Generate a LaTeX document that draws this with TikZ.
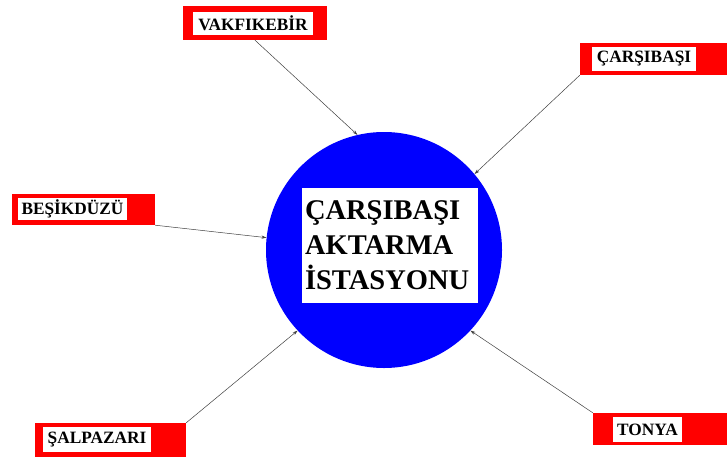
\documentclass[tikz,border=0pt]{standalone}
\usepackage{fontspec}
\setmainfont{Liberation Serif}
\usetikzlibrary{arrows.meta}
\tikzset{
  redbox/.style={fill=red, draw=none, inner sep=0pt},
  whitebox/.style={fill=white, draw=none, inner sep=0pt, font=\fontsize{17.3}{20}\selectfont\bfseries},
  link/.style={draw=black!75, line width=0.5pt, -{Stealth[length=5pt,width=3.2pt]}},
}
\begin{document}
\begin{tikzpicture}[x=1pt,y=-1pt]
\useasboundingbox[fill=white] (0,0) rectangle (727,458);
% hub
\node[circle, fill=blue, draw=none, minimum size=236pt, inner sep=0pt] (hub) at (384,250) {};
\node[fill=white, inner sep=0pt, minimum width=176pt, minimum height=115pt,
      text width=170pt, align=left,
      font=\fontsize{28.5}{35}\selectfont\bfseries] (title) at (390,245.5)
  {ÇARŞIBAŞI\\AKTARMA\\İSTASYONU};
% outer stations
\node[redbox, minimum width=144pt, minimum height=34pt] (vak) at (255,23) {};
\node[whitebox, minimum width=120pt, minimum height=23pt] (vakt) at (253,23.5) {VAKFIKEBİR};
\node[redbox, minimum width=147pt, minimum height=32pt] (car) at (653.5,59) {};
\node[whitebox, minimum width=104pt, minimum height=24pt] (cart) at (644,59) {ÇARŞIBAŞI};
\node[redbox, minimum width=143pt, minimum height=31pt] (bes) at (83.5,209.5) {};
\node[whitebox, minimum width=109pt, minimum height=22pt] (best) at (72.5,209) {BEŞİKDÜZÜ};
\node[redbox, minimum width=151pt, minimum height=34pt] (sal) at (110.5,440) {};
\node[whitebox, minimum width=108pt, minimum height=25pt] (salt) at (97,439.5) {ŞALPAZARI};
\node[redbox, minimum width=134pt, minimum height=32pt] (ton) at (660,429) {};
\node[whitebox, minimum width=69pt, minimum height=25pt] (tont) at (647.5,429.5) {TONYA};
% connectors
\draw[link] (vak.south) -- (hub.103.5);
\draw[link] (car.south west) -- (hub.40);
\draw[link] (bes.south east) -- (hub.174.7);
\draw[link] (sal.north east) -- (hub.223.3);
\draw[link] (ton.north west) -- (hub.-43);
\end{tikzpicture}
\end{document}
